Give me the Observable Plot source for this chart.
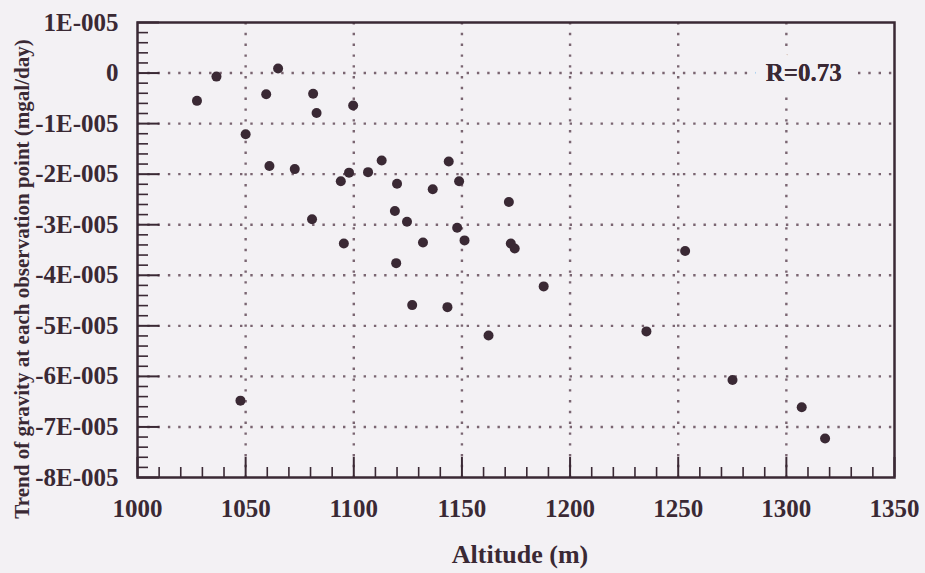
<!DOCTYPE html>
<html>
<head>
<meta charset="utf-8">
<script src="https://cdn.jsdelivr.net/npm/d3@7"></script>
<script src="https://cdn.jsdelivr.net/npm/@observablehq/plot@0.6"></script>
<style>
  html, body { margin: 0; padding: 0; background: #f3f1f4; }
  #chart { position: relative; width: 925px; height: 573px; }
  #chart svg, #chart svg text { font-family: "Liberation Serif", "Times New Roman", serif !important; }
  #chart svg g[aria-label$="tick label"] text { font-weight: bold !important; font-size: 25px !important; }
</style>
</head>
<body>
<div id="chart"></div>
<script>
// Data (altitude in m, trend in mgal/day)
const altitude = [1027.5, 1036.5, 1050, 1047.6, 1059.5, 1061, 1065, 1072.7, 1080.7, 1081.2,
  1082.8, 1094, 1095.4, 1097.8, 1099.7, 1106.6, 1112.9, 1119, 1119.6, 1120,
  1124.6, 1127, 1132, 1136.5, 1143.3, 1143.9, 1147.8, 1148.7, 1151.2, 1162.3,
  1171.7, 1172.6, 1174.4, 1187.8, 1235.3, 1253.2, 1275.1, 1307.1, 1317.9];
const trend = [-0.55e-5, -0.07e-5, -1.21e-5, -6.48e-5, -0.42e-5, -1.84e-5, 0.09e-5, -1.90e-5, -2.89e-5, -0.41e-5,
  -0.79e-5, -2.14e-5, -3.37e-5, -1.97e-5, -0.64e-5, -1.96e-5, -1.73e-5, -2.73e-5, -3.76e-5, -2.19e-5,
  -2.94e-5, -4.59e-5, -3.35e-5, -2.30e-5, -4.63e-5, -1.75e-5, -3.06e-5, -2.14e-5, -3.31e-5, -5.19e-5,
  -2.55e-5, -3.37e-5, -3.47e-5, -4.22e-5, -5.11e-5, -3.52e-5, -6.07e-5, -6.61e-5, -7.23e-5];

const xTicks = [1000, 1050, 1100, 1150, 1200, 1250, 1300, 1350];
const xMinorTicks = d3.range(1010, 1350, 10).filter(v => v % 50 !== 0);
const yTickValues = [1e-5, 0, -1e-5, -2e-5, -3e-5, -4e-5, -5e-5, -6e-5, -7e-5, -8e-5];
const yTickLabels = ["1E-005", "0", "-1E-005", "-2E-005", "-3E-005", "-4E-005", "-5E-005", "-6E-005", "-7E-005", "-8E-005"];
const yMinorTicks = d3.range(-40, 5, 1).filter(k => k % 5 !== 0).map(k => k * 2e-6);
const xGrid = [1050, 1100, 1150, 1200, 1250, 1300];
const yGrid = [0, -1e-5, -2e-5, -3e-5, -4e-5, -5e-5, -6e-5, -7e-5];
const annotation = [{x: 1308, y: 0, text: "R=0.73"}];

const ink = "#3a2934";
const gridColor = "#7a6571";
const bg = "#f3f1f4";

const W = 925, H = 573;
const mL = 137, mR = 31, mT = 22, mB = 96;
const pw = W - mL - mR, ph = H - mT - mB;

const points = altitude.map((a, i) => ({a, t: trend[i]}));

const chart = Plot.plot({
  width: W, height: H,
  marginLeft: mL, marginRight: mR, marginTop: mT, marginBottom: mB,
  style: {background: bg, color: ink, fontFamily: '"Liberation Serif", "Times New Roman", serif'},
  x: {domain: [1000, 1350], label: null},
  y: {domain: [-8e-5, 1e-5], label: null},
  marks: [
    // dotted grid
    Plot.ruleX(xGrid, {stroke: gridColor, strokeWidth: 2.4, strokeDasharray: "2.4,8.4"}),
    Plot.ruleY(yGrid, {stroke: gridColor, strokeWidth: 2.4, strokeDasharray: "2.4,7.9"}),
    // annotation with halo masking grid
    Plot.text(annotation, {x: "x", y: "y", text: "text", fill: ink, stroke: bg, strokeWidth: 26,
      fontSize: 25, fontWeight: "bold", textAnchor: "middle"}),
    Plot.text(annotation, {x: "x", y: "y", text: "text", fill: ink,
      fontSize: 25, fontWeight: "bold", textAnchor: "middle"}),
    // inner ticks
    Plot.tickY(yTickValues, {stroke: ink, strokeWidth: 2, insetRight: pw - 22}),
    Plot.tickY(yMinorTicks, {stroke: ink, strokeWidth: 1.6, insetRight: pw - 11}),
    Plot.tickX(xTicks, {stroke: ink, strokeWidth: 2, insetTop: ph - 20}),
    Plot.tickX(xMinorTicks, {stroke: ink, strokeWidth: 1.6, insetTop: ph - 10}),
    // frame
    Plot.frame({stroke: ink, strokeWidth: 2.5}),
    // points
    Plot.dot(points, {x: "a", y: "t", r: 5, fill: ink, stroke: "none"}),
    // axes labels
    Plot.axisY(yTickValues, {tickSize: 0, tickPadding: 19, fontSize: 25, fontWeight: "bold",
      tickFormat: (d, i) => yTickLabels[i], fill: ink, label: null}),
    Plot.axisX(xTicks, {tickSize: 0, tickPadding: 22, fontSize: 25, fontWeight: "bold",
      tickFormat: d => String(d), fill: ink, label: null})
  ]
});

const svg = d3.select(chart);
svg.append("text")
  .attr("x", 520).attr("y", 563)
  .attr("text-anchor", "middle")
  .attr("fill", ink)
  .style("font-size", "26px").style("font-weight", "bold")
  .text("Altitude (m)");
svg.append("text")
  .attr("transform", "translate(29,279) rotate(-90)")
  .attr("text-anchor", "middle")
  .attr("fill", ink)
  .style("font-size", "21px").style("font-weight", "bold")
  .text("Trend of gravity at each observation point (mgal/day)");

document.getElementById("chart").appendChild(chart);
</script>
</body>
</html>
